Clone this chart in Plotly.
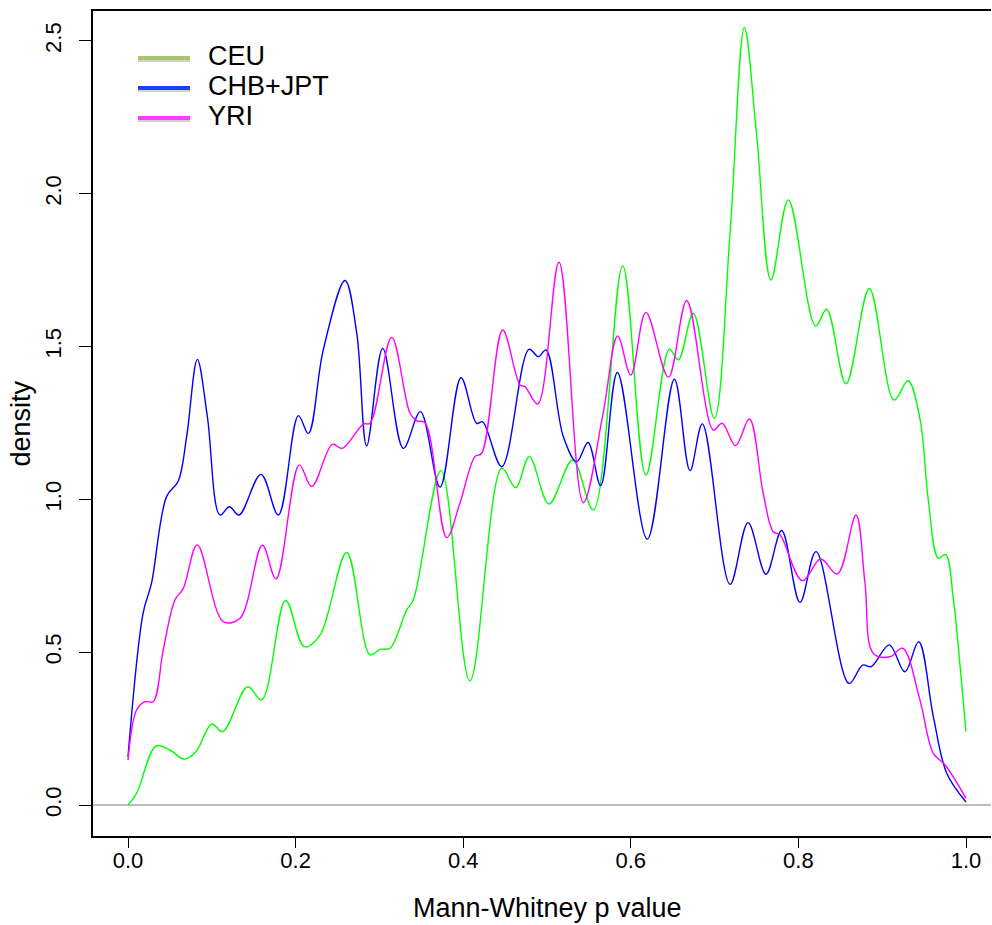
import plotly.graph_objects as go

# ---- data ----
ceu_x = [0.000, 0.0103, 0.0334, 0.050, 0.0672, 0.081, 0.0999, 0.113, 0.1428, 0.1595,
         0.1881, 0.2104, 0.2291, 0.261, 0.2888, 0.3007, 0.3126, 0.3325, 0.3405, 0.3735,
         0.408, 0.446, 0.4626, 0.4789, 0.5024, 0.5306, 0.5553, 0.5903, 0.618, 0.646,
         0.6567, 0.6746, 0.6996, 0.7184, 0.7355, 0.750, 0.7673, 0.788, 0.8206, 0.8337,
         0.8568, 0.8846, 0.9141, 0.9308, 0.945, 0.955, 0.967, 0.9757, 0.985, 0.993, 1.000]
ceu_y = [0.000, 0.038, 0.193, 0.180, 0.150, 0.174, 0.265, 0.240, 0.387, 0.344,
         0.669, 0.518, 0.556, 0.826, 0.491, 0.509, 0.513, 0.638, 0.671, 1.094,
         0.406, 1.102, 1.038, 1.140, 0.985, 1.129, 0.965, 1.764, 1.080, 1.491,
         1.456, 1.609, 1.265, 1.871, 2.544, 2.198, 1.718, 1.980, 1.567, 1.622,
         1.378, 1.690, 1.325, 1.388, 1.265, 0.998, 0.807, 0.820, 0.671, 0.453, 0.240]

chb_x = [0.000, 0.018, 0.028, 0.046, 0.060, 0.070, 0.0827, 0.0947, 0.1098, 0.121,
         0.1325, 0.1587, 0.1794, 0.2033, 0.2152, 0.233, 0.259, 0.273, 0.2848, 0.304,
         0.3286, 0.349, 0.3723, 0.3974, 0.416, 0.4232, 0.446, 0.4785, 0.4897, 0.4988,
         0.5195, 0.5354, 0.549, 0.564, 0.584, 0.6197, 0.652, 0.6706, 0.6854, 0.7184,
         0.7399, 0.7613, 0.780, 0.8019, 0.821, 0.8604, 0.8767, 0.887, 0.9085, 0.927,
         0.9435, 0.961, 0.977, 1.000]
chb_y = [0.158, 0.627, 0.725, 1.009, 1.060, 1.205, 1.458, 1.271, 0.949, 0.976,
         0.949, 1.082, 0.949, 1.274, 1.216, 1.489, 1.716, 1.543, 1.175, 1.494,
         1.167, 1.287, 1.040, 1.398, 1.249, 1.254, 1.107, 1.491, 1.467, 1.489,
         1.205, 1.123, 1.186, 1.045, 1.415, 0.870, 1.393, 1.094, 1.247, 0.722,
         0.924, 0.755, 0.898, 0.663, 0.829, 0.398, 0.458, 0.453, 0.524, 0.436,
         0.534, 0.289, 0.104, 0.010]

yri_x = [0.000, 0.0103, 0.0203, 0.030, 0.042, 0.056, 0.066, 0.0827, 0.1137, 0.1337,
         0.1603, 0.1766, 0.2044, 0.2192, 0.2438, 0.2557, 0.2808, 0.2888, 0.3146, 0.3365,
         0.3445, 0.3544, 0.3803, 0.396, 0.414, 0.422, 0.4471, 0.4678, 0.4737, 0.4889,
         0.5143, 0.5433, 0.567, 0.5843, 0.600, 0.618, 0.6448, 0.6667, 0.6985, 0.709,
         0.725, 0.7415, 0.758, 0.770, 0.778, 0.8047, 0.8265, 0.8465, 0.8687, 0.8795,
         0.8894, 0.9093, 0.9244, 0.945, 0.961, 0.975, 1.000]
yri_y = [0.147, 0.311, 0.338, 0.338, 0.507, 0.671, 0.709, 0.851, 0.600, 0.611,
         0.850, 0.740, 1.113, 1.042, 1.180, 1.167, 1.246, 1.249, 1.530, 1.282,
         1.257, 1.251, 0.875, 0.987, 1.140, 1.151, 1.554, 1.374, 1.369, 1.312,
         1.776, 0.989, 1.282, 1.535, 1.407, 1.612, 1.400, 1.650, 1.227, 1.249,
         1.176, 1.263, 1.020, 0.894, 0.884, 0.734, 0.805, 0.756, 0.949, 0.725,
         0.496, 0.485, 0.513, 0.344, 0.169, 0.131, 0.022]

series_names = ["CEU", "CHB+JPT", "YRI"]
series_colors = ["#00ff00", "#0000ff", "#ff00ff"]
legend_colors = ["#a9c46e", "#1a40ff", "#ff3cff"]
x_ticks = [0.0, 0.2, 0.4, 0.6, 0.8, 1.0]
x_tick_labels = ["0.0", "0.2", "0.4", "0.6", "0.8", "1.0"]
y_ticks = [0.0, 0.5, 1.0, 1.5, 2.0, 2.5]
y_tick_labels = ["0.0", "0.5", "1.0", "1.5", "2.0", "2.5"]

FONT = "Liberation Sans, Arial, Helvetica, sans-serif"

fig = go.Figure()
for (xs, ys), name, col in zip([(ceu_x, ceu_y), (chb_x, chb_y), (yri_x, yri_y)],
                               series_names, series_colors):
    fig.add_trace(go.Scatter(x=xs, y=ys, mode="lines", name=name, showlegend=False,
                             line=dict(color=col, width=1.4, shape="spline", smoothing=1.0)))

W, H = 992, 925
L, R, T, B = 93, 1, 11, 89
pw, ph = W - L - R, H - T - B

def px2paper(px, py):
    return (px - L) / pw, (H - B - py) / ph

shapes = []
annotations = []
leg_line_y = [58, 88, 118]
for name, col, ly in zip(series_names, legend_colors, leg_line_y):
    x0, y0 = px2paper(138, ly + 2)
    x1, _ = px2paper(190, ly + 2)
    shapes.append(dict(type="line", xref="paper", yref="paper", x0=x0, x1=x1, y0=y0, y1=y0,
                       line=dict(color="rgba(0,0,0,0.18)", width=4)))
    x0, y0 = px2paper(138, ly)
    x1, _ = px2paper(190, ly)
    shapes.append(dict(type="line", xref="paper", yref="paper", x0=x0, x1=x1, y0=y0, y1=y0,
                       line=dict(color=col, width=4)))
    tx, ty = px2paper(206, ly - 2)
    annotations.append(dict(text=name, xref="paper", yref="paper", x=tx, y=ty,
                            xanchor="left", yanchor="middle", showarrow=False,
                            font=dict(family=FONT, size=27, color="black")))

annotations.append(dict(text="Mann-Whitney p value", xref="x", yref="paper", x=0.5, y=0,
                        yshift=-72, xanchor="center", yanchor="middle", showarrow=False,
                        font=dict(family=FONT, size=27, color="black")))
annotations.append(dict(text="density", xref="paper", yref="paper", x=0, y=0.5,
                        xshift=-73, xanchor="center", yanchor="middle", textangle=-90,
                        showarrow=False, font=dict(family=FONT, size=27, color="black")))

fig.update_layout(
    width=W, height=H,
    margin=dict(l=L, r=R, t=T, b=B, pad=0),
    paper_bgcolor="white", plot_bgcolor="white",
    shapes=shapes, annotations=annotations,
    showlegend=False,
    xaxis=dict(range=[(L - 128) / 838, (W - R - 128) / 838], tickvals=x_ticks,
               ticktext=x_tick_labels, ticks="outside", ticklen=10, tickwidth=1,
               tickcolor="black", showgrid=False, zeroline=False, showline=True,
               linecolor="black", linewidth=2, mirror=True, ticklabelstandoff=-6,
               tickfont=dict(family=FONT, size=22, color="black")),
    yaxis=dict(range=[-0.1014, 2.598], tickvals=y_ticks, ticktext=y_tick_labels,
               ticks="outside", ticklen=12, tickwidth=1, tickcolor="black",
               tickangle=-90, showgrid=False, zeroline=True, zerolinecolor="#bebebe",
               zerolinewidth=1.5, showline=True, linecolor="black", linewidth=2,
               mirror=False, ticklabelstandoff=9,
               tickfont=dict(family=FONT, size=22, color="black")),
)

fig.write_html("out.html")
